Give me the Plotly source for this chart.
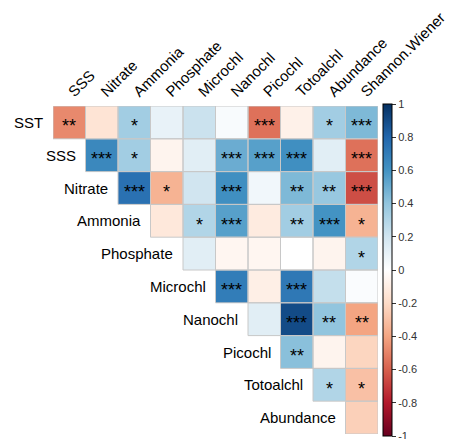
import plotly.graph_objects as go
import numpy as np

row_names = ["SST", "SSS", "Nitrate", "Ammonia", "Phosphate", "Microchl",
             "Nanochl", "Picochl", "Totoalchl", "Abundance"]
col_names = ["SSS", "Nitrate", "Ammonia", "Phosphate", "Microchl", "Nanochl",
             "Picochl", "Totoalchl", "Abundance", "Shannon.Wiener"]

# correlation coefficients, upper triangle; row i starts at column i
r_sst       = [-0.48, -0.15, 0.35, 0.10, 0.22, 0.03, -0.55, -0.08, 0.35, 0.45]
r_sss       = [0.65, 0.35, -0.06, 0.13, 0.50, 0.55, 0.62, 0.13, -0.55]
r_nitrate   = [0.75, -0.35, 0.20, 0.62, 0.06, 0.45, 0.38, -0.65]
r_ammonia   = [-0.13, 0.30, 0.55, -0.11, 0.35, 0.60, -0.35]
r_phosphate = [0.13, -0.05, -0.05, 0.00, -0.06, 0.30]
r_microchl  = [0.70, -0.09, 0.72, 0.24, 0.02]
r_nanochl   = [0.13, 0.90, 0.40, -0.40]
r_picochl   = [0.42, -0.06, -0.22]
r_totoalchl = [0.30, -0.30]
r_abundance = [-0.24]

# significance marks, same layout
s_sst       = ["**", "", "*", "", "", "", "***", "", "*", "***"]
s_sss       = ["***", "*", "", "", "***", "***", "***", "", "***"]
s_nitrate   = ["***", "*", "", "***", "", "**", "**", "***"]
s_ammonia   = ["", "*", "***", "", "**", "***", "*"]
s_phosphate = ["", "", "", "", "", "*"]
s_microchl  = ["***", "", "***", "", ""]
s_nanochl   = ["", "***", "**", "**"]
s_picochl   = ["**", "", ""]
s_totoalchl = ["*", "*"]
s_abundance = [""]

rows_r = [r_sst, r_sss, r_nitrate, r_ammonia, r_phosphate, r_microchl,
          r_nanochl, r_picochl, r_totoalchl, r_abundance]
rows_s = [s_sst, s_sss, s_nitrate, s_ammonia, s_phosphate, s_microchl,
          s_nanochl, s_picochl, s_totoalchl, s_abundance]

n = len(row_names)
z = np.full((n, n), np.nan)
for i in range(n):
    for k, v in enumerate(rows_r[i]):
        z[i, i + k] = v

rdbu = ["#67001F", "#B2182B", "#D6604D", "#F4A582", "#FDDBC7", "#FFFFFF",
        "#D1E5F0", "#92C5DE", "#4393C3", "#2166AC", "#053061"]
cscale = [[k / 10, c] for k, c in enumerate(rdbu)]

font_family = "Liberation Sans, Arial, sans-serif"

fig = go.Figure()
fig.add_trace(go.Heatmap(
    z=z, x=list(range(n)), y=list(range(n)),
    colorscale=cscale, zmin=-1, zmax=1, hoverongaps=False,
    colorbar=dict(
        thickness=9, lenmode="pixels", len=332,
        x=1.015, xanchor="left", xpad=0, y=0.5, yanchor="middle", ypad=0,
        outlinewidth=1, outlinecolor="black",
        ticks="outside", ticklen=4, tickcolor="#333",
        ticklabeloverflow="allow",
        tickvals=[1, 0.8, 0.6, 0.4, 0.2, 0, -0.2, -0.4, -0.6, -0.8, -1],
        ticktext=["1", "0.8", "0.6", "0.4", "0.2", "0", "-0.2", "-0.4",
                  "-0.6", "-0.8", "-1"],
        tickfont=dict(size=11, color="#333", family=font_family),
    ),
))

# grey cell borders
for i in range(n):
    for j in range(i, n):
        fig.add_shape(type="rect", x0=j - 0.5, x1=j + 0.5, y0=i - 0.5, y1=i + 0.5,
                      line=dict(color="#C8C8C8", width=1), layer="above")

# significance stars
for i in range(n):
    for k, s in enumerate(rows_s[i]):
        if s:
            fig.add_annotation(x=i + k, y=i, text=s, showarrow=False,
                               xanchor="center", yanchor="middle", yshift=-4,
                               font=dict(size=18, color="black", family=font_family))

# row labels next to the diagonal
for i, name in enumerate(row_names):
    fig.add_annotation(x=i - 0.5, y=i, text=name, showarrow=False,
                       xanchor="right", yanchor="middle", xshift=-8,
                       font=dict(size=15, color="black", family=font_family))

fig.update_xaxes(range=[-0.5, n - 0.5], side="top", tickvals=list(range(n)),
                 ticktext=col_names, tickangle=-45, showgrid=False, zeroline=False,
                 showline=False, ticks="", ticklabelstandoff=2,
                 ticklabeloverflow="allow",
                 tickfont=dict(size=15, color="black", family=font_family))
fig.update_yaxes(range=[n - 0.5, -0.5], showticklabels=False, showgrid=False,
                 zeroline=False, showline=False)

fig.update_layout(width=451, height=439,
                  margin=dict(l=53, r=68, t=106, b=3),
                  plot_bgcolor="white", paper_bgcolor="white",
                  font=dict(family=font_family))

fig.write_html("out.html")
